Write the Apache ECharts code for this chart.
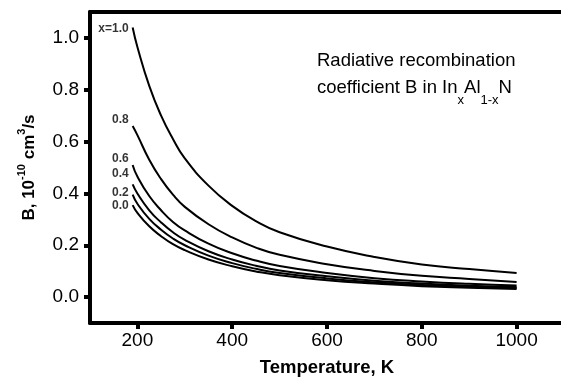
<!DOCTYPE html>
<html><head><meta charset="utf-8">
<script src="https://cdn.jsdelivr.net/npm/echarts@6/dist/echarts.min.js"></script>
<style>html,body{margin:0;padding:0;background:#fff}#c{width:561px;height:377px}</style>
</head><body><div id="c"></div>
<script>
const temps = [190, 200, 225, 250, 275, 300, 350, 400, 450, 500, 600, 700, 800, 900, 1000];
const b10 = [1.04, 0.965, 0.815, 0.70, 0.61, 0.535, 0.43, 0.352, 0.293, 0.25, 0.195, 0.155, 0.126, 0.108, 0.093];
const b08 = [0.66, 0.625, 0.53, 0.455, 0.395, 0.348, 0.281, 0.23, 0.191, 0.163, 0.127, 0.101, 0.082, 0.07, 0.058];
const b06 = [0.51, 0.465, 0.39, 0.335, 0.29, 0.257, 0.206, 0.169, 0.141, 0.12, 0.093, 0.073, 0.06, 0.051, 0.045];
const b04 = [0.435, 0.40, 0.335, 0.288, 0.25, 0.221, 0.177, 0.145, 0.121, 0.103, 0.08, 0.063, 0.052, 0.044, 0.039];
const b02 = [0.395, 0.36, 0.302, 0.26, 0.226, 0.20, 0.16, 0.131, 0.109, 0.093, 0.072, 0.057, 0.047, 0.04, 0.035];
const b00 = [0.355, 0.325, 0.273, 0.235, 0.204, 0.181, 0.145, 0.119, 0.099, 0.084, 0.065, 0.052, 0.042, 0.036, 0.031];
const seriesNames = ['x=1.0', '0.8', '0.6', '0.4', '0.2', '0.0'];
const seriesValues = [b10, b08, b06, b04, b02, b00];
const xTicks = [200, 400, 600, 800, 1000];
const yTicks = [0.0, 0.2, 0.4, 0.6, 0.8, 1.0];

const labelOffsets = [[0, 1], [0, -6], [0, -6], [0, -11], [0, -2], [0, 1]];
const FONT = '"Liberation Sans", Arial, Helvetica, sans-serif';

const chart = echarts.init(document.getElementById('c'), null, {renderer: 'canvas'});
const series = [];
seriesValues.forEach((vals, i) => {
  series.push({
    type: 'line',
    name: seriesNames[i],
    showSymbol: false,
    smooth: true,
    lineStyle: {color: '#000', width: 2},
    data: vals.map((v, j) => [temps[j], v]),
    emphasis: {disabled: true},
    z: 3
  });
  series.push({
    type: 'scatter',
    name: seriesNames[i] + ' label',
    symbolSize: 0,
    silent: true,
    data: [[temps[0], vals[0]]],
    label: {show: true, position: 'left', distance: 4, offset: labelOffsets[i],
      formatter: seriesNames[i], color: '#000', fontFamily: FONT, fontWeight: 'bold', fontSize: 12},
    z: 4
  });
});

chart.setOption({
  animation: false,
  backgroundColor: '#fff',
  grid: {left: 90, right: -3, top: 12, bottom: 54, containLabel: false, outerBoundsMode: 'none'},
  xAxis: [{
    type: 'value', min: 100, max: 1100,
    name: 'Temperature, K', nameLocation: 'middle', nameGap: 35,
    nameTextStyle: {color: '#000', fontFamily: FONT, fontWeight: 'bold', fontSize: 18.5},
    axisLine: {onZero: false, lineStyle: {color: '#000', width: 4}},
    axisTick: {length: 6, lineStyle: {color: '#000', width: 4}, customValues: xTicks},
    axisLabel: {customValues: xTicks, margin: 8, color: '#000', fontFamily: FONT, fontSize: 19,
      formatter: v => String(v)},
    splitLine: {show: false}
  }, {
    type: 'value', min: 100, max: 1100, position: 'top',
    axisLine: {show: true, onZero: false, lineStyle: {color: '#000', width: 4}},
    axisTick: {show: false}, axisLabel: {show: false}, splitLine: {show: false}
  }],
  yAxis: {
    type: 'value', min: -0.1, max: 1.1,
    name: '{a|B, 10}{s|-10}{a| cm}{s|3}{a|/s}', nameLocation: 'middle', nameGap: 52,
    nameTextStyle: {
      color: '#000',
      rich: {
        a: {fontFamily: FONT, fontWeight: 'bold', fontSize: 17, color: '#000', verticalAlign: 'bottom', lineHeight: 22},
        s: {fontFamily: FONT, fontWeight: 'bold', fontSize: 11, color: '#000', verticalAlign: 'top', lineHeight: 22}
      }
    },
    axisLine: {show: true, onZero: false, lineStyle: {color: '#000', width: 4}},
    axisTick: {show: true, length: 6, lineStyle: {color: '#000', width: 4}, customValues: yTicks},
    axisLabel: {customValues: yTicks, margin: 11, color: '#000', fontFamily: FONT, fontSize: 19,
      formatter: v => v.toFixed(1)},
    splitLine: {show: false}
  },
  graphic: [{
    type: 'text', left: 317, top: 51,
    style: {
      text: 'Radiative recombination',
      fill: '#000', font: '18.5px ' + FONT
    }
  }, {
    type: 'text', left: 317, top: 78,
    style: {
      text: '{a|coefficient B in In}{s|x}{a|Al}{s|1-x}{a|N}',
      fill: '#000',
      rich: {
        a: {fontFamily: FONT, fontSize: 18.5, fill: '#000', verticalAlign: 'top', lineHeight: 26},
        s: {fontFamily: FONT, fontSize: 13, fill: '#000', verticalAlign: 'top', lineHeight: 13, padding: [16, 0, 0, 0]}
      }
    }
  }],
  series: series
});
</script></body></html>
